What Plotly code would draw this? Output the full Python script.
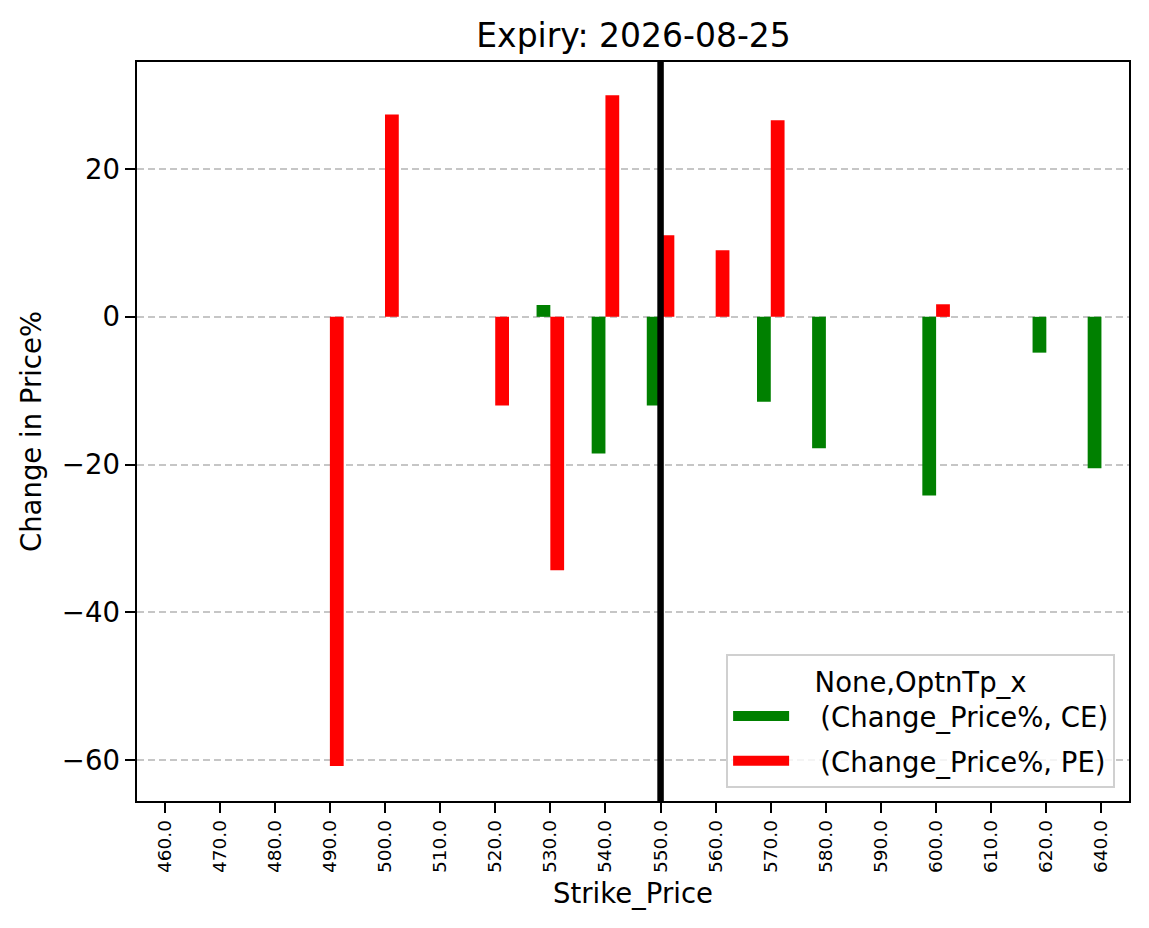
import plotly.graph_objects as go

strikes = ["460.0", "470.0", "480.0", "490.0", "500.0", "510.0", "520.0", "530.0", "540.0",
           "550.0", "560.0", "570.0", "580.0", "590.0", "600.0", "610.0", "620.0", "640.0"]
ce_change = [None, None, None, None, None, None, None, 1.6, -18.5,
             -12.0, None, -11.5, -17.8, None, -24.2, None, -4.85, -20.5]
pe_change = [None, None, None, -60.8, 27.4, None, -12.0, -34.3, 30.0,
             11.05, 9.03, 26.6, None, None, 1.7, None, None, None]
series_names = ["(Change_Price%, CE)", "(Change_Price%, PE)"]
series_colors = ["#008000", "#ff0000"]
spot_strike = "550.0"
title_text = "Expiry: 2026-08-25"
legend_title = "None,OptnTp_x"

FONT = "DejaVu Sans"
FS = 27.5
PAD = "\u00a0\u00a0\u00a0"  # gap between legend glyph and label

fig = go.Figure()
for vals, name, col in zip([ce_change, pe_change], series_names, series_colors):
    fig.add_trace(go.Bar(x=strikes, y=vals, name=name, showlegend=False,
                         marker=dict(color=col, line=dict(width=0)), legendgroup=name))
    # legend entry with a wide rectangular glyph
    fig.add_trace(go.Scatter(x=[None], y=[None], mode="lines", name=PAD + name,
                             line=dict(color=col, width=19), legendgroup=name, showlegend=True))

spot_idx = strikes.index(spot_strike)
fig.add_shape(type="line", xref="x", yref="paper", x0=spot_idx, x1=spot_idx, y0=0, y1=1,
              line=dict(color="black", width=6.5), layer="above")

fig.update_layout(
    width=1149, height=928,
    margin=dict(l=137, r=20, t=62, b=127),
    paper_bgcolor="white", plot_bgcolor="white",
    font=dict(family=FONT, size=FS, color="black"),
    barmode="group", bargap=0.5, bargroupgap=0,
    title=dict(text=title_text, x=0.5514, xanchor="center", y=1 - 35 / 928, yanchor="middle",
               font=dict(size=33, family=FONT)),
    legend=dict(x=0.986, y=0.0176, xanchor="right", yanchor="bottom",
                bordercolor="#d0d0d0", borderwidth=2, bgcolor="rgba(255,255,255,0.8)",
                font=dict(size=FS, family=FONT), itemwidth=56,
                title=dict(text=legend_title, side="top center", font=dict(size=FS, family=FONT)),
                tracegroupgap=6),
    showlegend=True,
)

fig.update_xaxes(
    type="category", range=[-0.5, 17.5],
    showline=True, linecolor="black", linewidth=2, mirror=True,
    ticks="outside", ticklen=9.6, tickwidth=2, tickcolor="black",
    tickangle=-90, tickfont=dict(size=18.5, family=FONT),
    showgrid=False, zeroline=False,
    title=dict(text="Strike_Price", font=dict(size=FS, family=FONT), standoff=12),
)
fig.update_yaxes(
    range=[-65.55, 34.5],
    tickvals=[-60, -40, -20, 0, 20],
    showline=True, linecolor="black", linewidth=2, mirror=True,
    ticks="outside", ticklen=9.6, tickwidth=2, tickcolor="black",
    tickfont=dict(size=FS, family=FONT),
    showgrid=True, gridcolor="#c6c6c6", gridwidth=2, griddash="7px,4px",
    zeroline=False,
    title=dict(text="Change in Price%", font=dict(size=FS, family=FONT), standoff=12),
)

fig.write_html("out.html")
